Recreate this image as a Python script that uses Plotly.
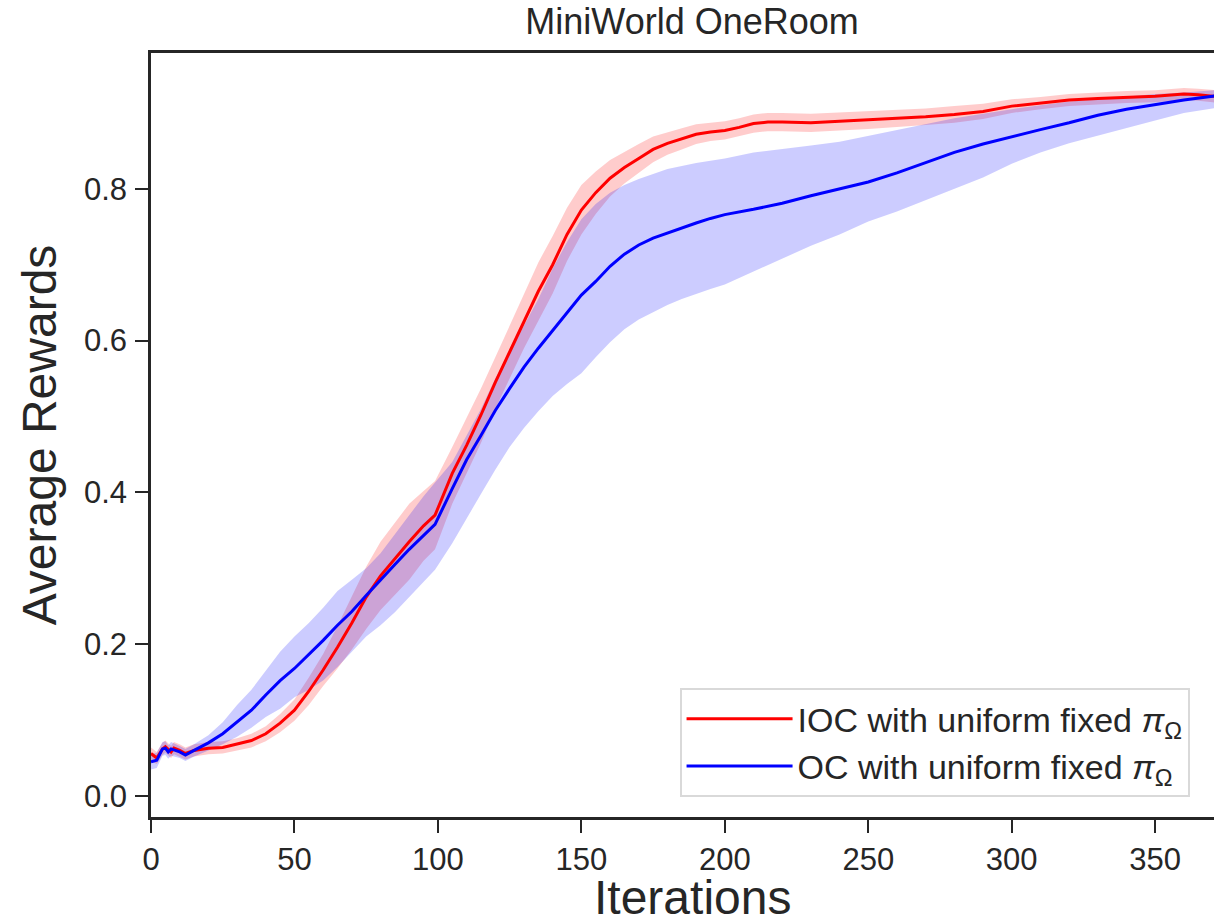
import plotly.graph_objects as go

# ---------------- data ----------------
ioc_iter = [0, 2, 4, 5, 7, 8, 10, 12, 15, 20, 25, 30, 35, 40, 45, 50, 55, 60, 65, 70,
            75, 80, 85, 90, 95, 99, 105, 110, 115, 120, 125, 130, 135, 140, 145, 150,
            155, 160, 165, 170, 175, 180, 185, 190, 195, 200, 205, 210, 215, 220, 230,
            240, 250, 260, 270, 280, 290, 300, 310, 320, 330, 340, 350, 360, 365, 370, 375]
ioc_mean = [0.056, 0.050, 0.062, 0.065, 0.058, 0.063, 0.060, 0.056, 0.060, 0.063, 0.064,
            0.068, 0.073, 0.082, 0.096, 0.113, 0.138, 0.166, 0.196, 0.228, 0.262, 0.290,
            0.313, 0.335, 0.356, 0.370, 0.425, 0.462, 0.502, 0.545, 0.585, 0.625, 0.665,
            0.700, 0.740, 0.772, 0.795, 0.814, 0.828, 0.840, 0.852, 0.860, 0.866, 0.872,
            0.875, 0.877, 0.881, 0.886, 0.888, 0.888, 0.887, 0.889, 0.891, 0.893, 0.895,
            0.898, 0.902, 0.909, 0.913, 0.917, 0.919, 0.921, 0.922, 0.925, 0.924, 0.922, 0.921]
ioc_lower = [0.046, 0.042, 0.054, 0.057, 0.050, 0.055, 0.052, 0.048, 0.052, 0.055, 0.056,
             0.060, 0.064, 0.072, 0.084, 0.099, 0.120, 0.145, 0.168, 0.193, 0.220, 0.245,
             0.265, 0.285, 0.310, 0.325, 0.385, 0.425, 0.465, 0.510, 0.550, 0.590, 0.627,
             0.662, 0.705, 0.740, 0.767, 0.790, 0.807, 0.821, 0.835, 0.845, 0.852, 0.859,
             0.863, 0.865, 0.869, 0.874, 0.876, 0.876, 0.875, 0.877, 0.879, 0.881, 0.884,
             0.887, 0.892, 0.900, 0.905, 0.909, 0.911, 0.913, 0.914, 0.917, 0.916, 0.914, 0.913]
ioc_upper = [0.064, 0.058, 0.070, 0.073, 0.066, 0.071, 0.068, 0.064, 0.068, 0.071, 0.072,
             0.076, 0.082, 0.092, 0.108, 0.127, 0.156, 0.187, 0.224, 0.263, 0.302, 0.335,
             0.360, 0.385, 0.402, 0.415, 0.460, 0.498, 0.537, 0.578, 0.620, 0.660, 0.703,
             0.738, 0.775, 0.805, 0.823, 0.838, 0.849, 0.859, 0.869, 0.875, 0.880, 0.885,
             0.887, 0.889, 0.893, 0.898, 0.900, 0.900, 0.899, 0.901, 0.903, 0.905, 0.906,
             0.909, 0.912, 0.918, 0.921, 0.925, 0.927, 0.929, 0.930, 0.933, 0.932, 0.930, 0.929]

oc_iter = [0, 2, 4, 5, 6, 7, 10, 12, 15, 18, 20, 25, 30, 35, 40, 45, 50, 55, 60, 65, 70,
           75, 80, 85, 90, 95, 99, 105, 110, 115, 120, 125, 130, 135, 140, 145, 150, 155,
           160, 165, 170, 175, 180, 185, 190, 195, 200, 210, 220, 230, 240, 250, 260, 270,
           280, 290, 300, 310, 320, 330, 340, 350, 360, 370, 375]
oc_mean = [0.045, 0.047, 0.062, 0.063, 0.058, 0.062, 0.058, 0.054, 0.060, 0.066, 0.070,
           0.082, 0.097, 0.113, 0.133, 0.152, 0.168, 0.186, 0.205, 0.225, 0.243, 0.264,
           0.285, 0.305, 0.325, 0.343, 0.358, 0.405, 0.443, 0.475, 0.508, 0.537, 0.565,
           0.590, 0.613, 0.637, 0.660, 0.678, 0.698, 0.714, 0.726, 0.735, 0.742, 0.749,
           0.755, 0.761, 0.766, 0.773, 0.781, 0.791, 0.800, 0.809, 0.821, 0.835, 0.848,
           0.859, 0.869, 0.878, 0.887, 0.897, 0.905, 0.911, 0.917, 0.922, 0.924]
oc_lower = [0.035, 0.037, 0.053, 0.054, 0.049, 0.053, 0.050, 0.046, 0.052, 0.057, 0.060,
            0.068, 0.078, 0.090, 0.104, 0.115, 0.130, 0.140, 0.152, 0.170, 0.190, 0.210,
            0.225, 0.242, 0.262, 0.282, 0.298, 0.333, 0.365, 0.398, 0.430, 0.460, 0.485,
            0.507, 0.527, 0.543, 0.557, 0.578, 0.598, 0.615, 0.628, 0.638, 0.647, 0.655,
            0.662, 0.668, 0.674, 0.690, 0.708, 0.725, 0.740, 0.757, 0.770, 0.785, 0.800,
            0.815, 0.833, 0.848, 0.860, 0.870, 0.880, 0.890, 0.900, 0.906, 0.909]
oc_upper = [0.055, 0.057, 0.071, 0.072, 0.067, 0.071, 0.066, 0.062, 0.068, 0.075, 0.080,
            0.097, 0.120, 0.140, 0.165, 0.190, 0.210, 0.228, 0.248, 0.270, 0.285, 0.300,
            0.320, 0.345, 0.370, 0.395, 0.413, 0.440, 0.475, 0.510, 0.550, 0.585, 0.620,
            0.655, 0.695, 0.730, 0.760, 0.780, 0.795, 0.805, 0.813, 0.820, 0.826, 0.830,
            0.834, 0.837, 0.840, 0.848, 0.852, 0.857, 0.862, 0.870, 0.878, 0.886, 0.893,
            0.899, 0.905, 0.910, 0.915, 0.918, 0.922, 0.925, 0.927, 0.930, 0.931]

series_names = ["IOC with uniform fixed <i>π</i><sub>Ω</sub>",
                "OC with uniform fixed <i>π</i><sub>Ω</sub>"]
x_ticks = [0, 50, 100, 150, 200, 250, 300, 350]
y_ticks = [0.0, 0.2, 0.4, 0.6, 0.8]
y_tick_labels = ["0.0", "0.2", "0.4", "0.6", "0.8"]
x_title = "Iterations"
y_title = "Average Rewards"
chart_title = "MiniWorld OneRoom"

# ---------------- figure ----------------
FONT = "Liberation Sans, Arial, DejaVu Sans, sans-serif"
DARK = "#262626"

fig = go.Figure()

def band(xs, lo, hi, color):
    fig.add_trace(go.Scatter(
        x=list(xs) + list(xs)[::-1],
        y=list(hi) + list(lo)[::-1],
        fill="toself", fillcolor=color, mode="lines",
        line=dict(width=0), hoverinfo="skip", showlegend=False))

band(ioc_iter, ioc_lower, ioc_upper, "rgba(255,0,0,0.2)")
band(oc_iter, oc_lower, oc_upper, "rgba(0,0,255,0.2)")

fig.add_trace(go.Scatter(x=ioc_iter, y=ioc_mean, mode="lines", name=series_names[0],
                         line=dict(color="#ff0000", width=3)))
fig.add_trace(go.Scatter(x=oc_iter, y=oc_mean, mode="lines", name=series_names[1],
                         line=dict(color="#0000ff", width=3)))

fig.update_layout(
    width=1214, height=921,
    margin=dict(l=151, r=0, t=53, b=104, autoexpand=False),
    paper_bgcolor="white", plot_bgcolor="white",
    font=dict(family=FONT, color=DARK),
    title=dict(text=chart_title, x=0.509, xref="paper", xanchor="center",
               y=0.977, yref="container", yanchor="middle",
               font=dict(size=36, color=DARK)),
    legend=dict(x=0.977, y=0.026, xanchor="right", yanchor="bottom",
                bgcolor="white", bordercolor="#d9d9d9", borderwidth=2,
                font=dict(size=34, color=DARK), itemwidth=106, tracegroupgap=0),
    showlegend=True,
)

# x-axis title placed as an annotation so it can sit low, like the reference
fig.add_annotation(text=x_title, xref="paper", yref="paper", x=0.509, y=-0.106,
                   xanchor="center", yanchor="middle", showarrow=False,
                   font=dict(size=48, color=DARK))

fig.update_xaxes(
    range=[0, 370.5], tickvals=x_ticks, showgrid=False, zeroline=False,
    showline=True, linecolor=DARK, linewidth=2.5, mirror=True,
    ticks="outside", ticklen=13, tickwidth=2, tickcolor=DARK,
    tickfont=dict(size=31, color=DARK), ticklabelstandoff=0, automargin=False,
)
fig.update_yaxes(
    range=[-0.0277, 0.979], tickvals=y_ticks, ticktext=y_tick_labels,
    showgrid=False, zeroline=False,
    showline=True, linecolor=DARK, linewidth=2.5, mirror=False,
    ticks="outside", ticklen=13, tickwidth=2, tickcolor=DARK,
    tickfont=dict(size=31, color=DARK), ticklabelstandoff=2, automargin=False,
    title=dict(text=y_title, font=dict(size=48, color=DARK), standoff=13),
)

# remove the page's default body margin so the figure sits at the window's corner
fig.write_html("out.html", config={"displayModeBar": False},
               post_script="document.body.style.margin='0';")
